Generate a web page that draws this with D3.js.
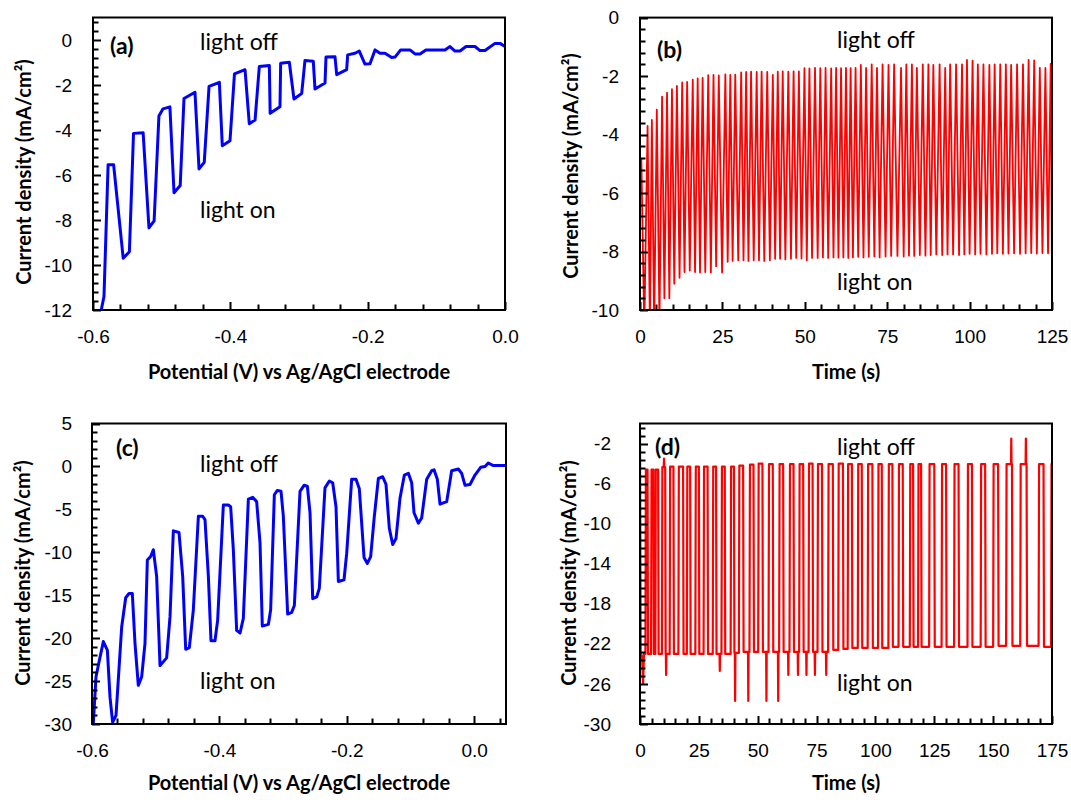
<!DOCTYPE html>
<html>
<head>
<meta charset="utf-8">
<script src="https://cdn.jsdelivr.net/npm/d3@7"></script>
<style>
  html, body { margin: 0; padding: 0; background: #fff; }
  svg { display: block; font-family: Lato, "Open Sans", "DejaVu Sans", sans-serif; }
</style>
</head>
<body>
<svg id="chart" width="1071" height="800"></svg>
<script>
// ---------------- DATA ----------------
// (a) linear sweep, chopped light
const aPotential = [-0.59, -0.584, -0.578, -0.570, -0.556, -0.547, -0.541, -0.527, -0.5185, -0.511, -0.504, -0.498, -0.488, -0.482, -0.473, -0.4675, -0.4515, -0.4456, -0.438, -0.431, -0.416, -0.4117, -0.4005, -0.394, -0.3786, -0.3724, -0.364, -0.3578, -0.3432, -0.342, -0.3277, -0.3267, -0.3141, -0.3073, -0.2961, -0.2913, -0.2792, -0.2767, -0.2621, -0.2607, -0.2476, -0.2451, -0.2306, -0.2291, -0.2185, -0.2122, -0.2039, -0.1966, -0.1893, -0.182, -0.1748, -0.165, -0.1602, -0.1519, -0.1384, -0.1311, -0.1238, -0.1151, -0.0874, -0.0801, -0.0728, -0.0655, -0.0568, -0.0437, -0.0364, -0.0291, -0.0146, -0.0073, 0];
const aCurrent = [-12.3, -11.4, -5.54, -5.54, -9.7, -9.41, -4.15, -4.12, -8.35, -8.04, -3.38, -3.06, -2.97, -6.79, -6.47, -2.6, -2.32, -5.73, -5.44, -2.06, -1.88, -4.7, -4.48, -1.51, -1.32, -3.72, -3.56, -1.18, -1.13, -3.26, -2.97, -1.03, -0.99, -2.62, -2.38, -0.91, -0.94, -2.18, -1.91, -0.76, -0.74, -1.54, -1.32, -0.66, -0.59, -0.49, -1.07, -1.06, -0.44, -0.59, -0.59, -0.78, -0.76, -0.44, -0.44, -0.62, -0.62, -0.44, -0.44, -0.29, -0.49, -0.49, -0.29, -0.29, -0.47, -0.47, -0.15, -0.15, -0.29];

// (b) chronoamperometry: peaks (light off) and troughs (light on)
const bPeakTime = [0.4, 2.3, 3.6, 5.1, 6.7, 8.2, 9.7, 11.2, 12.8, 14.3, 16.0, 17.5, 19.0, 20.7, 22.3, 23.9, 25.9, 27.4, 28.9, 30.7, 32.2, 33.7, 35.4, 36.9, 38.6, 40.3, 41.8, 43.3, 45.0, 46.6, 48.2, 49.9, 51.4, 53.1, 54.7, 56.3, 58.0, 59.5, 61.0, 62.5, 63.9, 65.4, 67.0, 68.6, 70.3, 71.9, 73.6, 75.4, 77.1, 79.2, 80.8, 82.5, 84.0, 85.8, 87.5, 89.0, 90.9, 92.6, 94.1, 95.9, 97.7, 99.2, 100.9, 102.5, 104.2, 106.0, 107.6, 109.3, 111.0, 112.6, 114.4, 116.2, 117.9, 119.6, 121.3, 123.0, 124.6];
const bPeakCurrent = [-4.8, -3.7, -3.5, -3.15, -2.7, -2.57, -2.45, -2.34, -2.22, -2.2, -2.12, -2.08, -2.06, -1.97, -1.96, -1.98, -1.94, -1.96, -1.95, -1.87, -1.86, -1.85, -1.86, -1.85, -1.86, -1.96, -1.85, -1.84, -1.85, -1.84, -1.84, -1.73, -1.74, -1.72, -1.73, -1.72, -1.74, -1.72, -1.73, -1.72, -1.73, -1.72, -1.62, -1.72, -1.60, -1.72, -1.60, -1.62, -1.60, -1.72, -1.60, -1.60, -1.72, -1.60, -1.60, -1.62, -1.60, -1.72, -1.60, -1.60, -1.60, -1.45, -1.47, -1.60, -1.60, -1.62, -1.60, -1.60, -1.60, -1.62, -1.60, -1.60, -1.45, -1.46, -1.72, -1.72, -1.58];
const bTroughTime = [1.3, 3.0, 4.3, 5.9, 7.4, 8.9, 10.4, 12.0, 13.5, 15.1, 16.7, 18.2, 19.8, 21.5, 23.1, 24.9, 26.6, 28.1, 29.8, 31.4, 32.9, 34.5, 36.1, 37.7, 39.4, 41.0, 42.5, 44.1, 45.8, 47.4, 49.0, 50.6, 52.2, 53.9, 55.5, 57.1, 58.7, 60.2, 61.7, 63.2, 64.6, 66.2, 67.8, 69.4, 71.1, 72.7, 74.5, 76.2, 78.1, 80.0, 81.6, 83.2, 84.9, 86.6, 88.2, 89.9, 91.7, 93.3, 95.0, 96.8, 98.4, 100.0, 101.7, 103.3, 105.1, 106.8, 108.4, 110.1, 111.8, 113.5, 115.3, 117.0, 118.7, 120.4, 122.1, 123.8, 125.0];
const bTroughCurrent = [-10.6, -10.6, -10.6, -10.4, -9.6, -9.6, -9.1, -8.9, -8.7, -8.65, -8.7, -8.72, -8.7, -8.72, -8.5, -8.72, -8.35, -8.32, -8.3, -8.3, -8.32, -8.3, -8.3, -8.32, -8.3, -8.25, -8.25, -8.27, -8.25, -8.22, -8.24, -8.3, -8.22, -8.22, -8.2, -8.22, -8.2, -8.21, -8.2, -8.22, -8.2, -8.18, -8.2, -8.18, -8.17, -8.2, -8.17, -8.15, -8.15, -8.17, -8.14, -8.15, -8.12, -8.14, -8.12, -8.1, -8.12, -8.1, -8.1, -8.12, -8.1, -8.08, -8.1, -8.08, -8.1, -8.08, -8.06, -8.08, -8.07, -8.06, -8.08, -8.06, -8.05, -8.07, -8.05, -8.06, -8.1];

// (c) linear sweep, chopped light
const cPotential = [-0.598, -0.5937, -0.5885, -0.5822, -0.5759, -0.5717, -0.5676, -0.5623, -0.5534, -0.5471, -0.5419, -0.5367, -0.5325, -0.5273, -0.522, -0.5168, -0.5131, -0.5079, -0.5037, -0.4985, -0.4932, -0.4828, -0.4775, -0.4723, -0.4634, -0.4576, -0.4529, -0.4472, -0.4409, -0.433, -0.4262, -0.4226, -0.4173, -0.4132, -0.4069, -0.4027, -0.3938, -0.3859, -0.3823, -0.3781, -0.3729, -0.3676, -0.3624, -0.3545, -0.3477, -0.3415, -0.3362, -0.3326, -0.3231, -0.3195, -0.3137, -0.309, -0.3032, -0.2996, -0.2928, -0.2865, -0.2823, -0.2734, -0.2671, -0.2619, -0.2577, -0.2535, -0.2473, -0.2431, -0.2342, -0.2274, -0.2221, -0.2169, -0.2132, -0.2043, -0.2001, -0.1923, -0.1855, -0.1803, -0.1729, -0.1677, -0.1625, -0.1567, -0.1504, -0.1436, -0.1384, -0.1332, -0.1279, -0.1227, -0.1164, -0.1096, -0.1033, -0.0981, -0.0944, -0.0876, -0.0824, -0.0745, -0.0667, -0.063, -0.0578, -0.0536, -0.0431, -0.0353, -0.0248, -0.0196, -0.0143, -0.0065, 0.0013, 0.0102, 0.017, 0.0222, 0.0301, 0.0406, 0.05];
const cCurrent = [-30.0, -24.5, -22.6, -20.4, -21.4, -26.9, -29.8, -29.0, -18.7, -15.3, -14.8, -14.8, -20.6, -25.5, -24.5, -20.6, -10.9, -10.5, -9.7, -12.8, -23.2, -22.3, -17.5, -7.5, -7.7, -12.8, -21.3, -21.1, -16.7, -5.8, -5.8, -6.2, -12.8, -20.3, -20.3, -17.9, -4.5, -4.5, -4.7, -9.7, -19.1, -19.4, -17.7, -3.8, -3.6, -4.1, -8.9, -18.6, -18.4, -16.7, -3.3, -2.8, -2.9, -5.8, -17.2, -17.0, -16.2, -2.9, -2.2, -2.3, -5.4, -15.4, -15.2, -14.2, -2.5, -1.7, -1.9, -4.7, -13.4, -13.2, -10.1, -1.5, -1.5, -2.6, -10.6, -11.3, -10.5, -5.8, -1.4, -1.2, -2.1, -7.2, -9.1, -8.4, -3.7, -1.0, -0.8, -1.9, -5.4, -6.6, -6.0, -1.5, -0.5, -0.4, -1.5, -4.4, -4.1, -0.5, -0.3, -0.8, -2.2, -2.1, -1.0, -0.1, 0.0, 0.4, 0.1, 0.1, 0.1];

// (d) chronoamperometry: square pulses
const dStartTime = [0, 0.3, 0.9, 1.3, 1.7];
const dStartCurrent = [-0.8, -22.9, -23.3, -26.0, -23.0];
const dRiseTime = [2.3, 4.7, 6.5, 9.3, 12.6, 16.3, 19.9, 23.5, 27.0, 30.9, 34.6, 38.5, 42.0, 46.5, 50.2, 54.6, 59.1, 63.5, 67.6, 71.6, 75.4, 79.9, 84.2, 88.2, 92.5, 96.7, 101.1, 105.5, 109.8, 114.6, 118.1, 122.8, 128.1, 133.4, 139.1, 144.7, 150.0, 155.5, 161.5, 169.3, 174.6];
const dFallTime = [3.2, 5.7, 7.7, 10.7, 14.2, 18.3, 21.3, 25.0, 28.7, 32.3, 36.0, 39.9, 43.8, 48.2, 52.0, 56.4, 60.8, 65.2, 69.3, 73.3, 77.3, 81.9, 86.2, 90.0, 94.2, 98.7, 102.7, 107.2, 111.6, 116.0, 119.4, 125.0, 130.0, 135.3, 141.0, 146.6, 152.1, 158.0, 164.2, 171.4];
const dOffCurrent = [-4.6, -4.6, -4.6, -4.35, -4.3, -4.3, -4.3, -4.3, -4.3, -4.3, -4.3, -4.3, -4.2, -4.1, -4.0, -4.05, -4.05, -4.05, -4.05, -4.0, -4.05, -4.05, -4.0, -4.05, -4.05, -4.05, -4.05, -4.05, -4.05, -4.05, -4.05, -4.05, -4.05, -4.05, -4.05, -4.05, -4.05, -4.05, -4.05, -4.05, -4.05];
const dOnCurrent = [-23.0, -23.0, -23.0, -23.0, -23.0, -23.0, -23.0, -23.0, -23.0, -23.0, -23.0, -22.9, -22.8, -22.8, -22.8, -22.8, -22.8, -22.8, -22.8, -22.8, -22.8, -22.6, -22.5, -22.4, -22.4, -22.4, -22.4, -22.3, -22.3, -22.3, -22.3, -22.3, -22.3, -22.3, -22.3, -22.3, -22.2, -22.2, -22.2, -22.3];
const dSpikeTime = [10.2, 11.1, 33.9, 40.4, 46.0, 53.7, 58.7, 63.0, 67.1, 70.7, 74.3, 79.1, 157.7, 163.9];
const dSpikeCurrent = [-3.5, -25.1, -24.7, -27.7, -27.7, -27.7, -27.7, -25.1, -25.1, -25.1, -25.1, -25.1, -1.5, -1.5];
const dEndTime = [175];
const dEndCurrent = [-6.5];

// tick labels
const potentialTicks = [-0.6, -0.4, -0.2, 0.0];
const aYTicks = [-12, -10, -8, -6, -4, -2, 0];
const bXTicks = [0, 25, 50, 75, 100, 125];
const bYTicks = [-10, -8, -6, -4, -2, 0];
const cYTicks = [-30, -25, -20, -15, -10, -5, 0, 5];
const dXTicks = [0, 25, 50, 75, 100, 125, 150, 175];
const dYTicks = [-30, -26, -22, -18, -14, -10, -6, -2];

// ---------------- BUILD SERIES ----------------
const seriesA = aPotential.map((v, i) => [v, aCurrent[i]]);
const seriesC = cPotential.map((v, i) => [v, cCurrent[i]]);
const seriesB = [];
bPeakTime.forEach((t, i) => {
  seriesB.push([t, bPeakCurrent[i]]);
  seriesB.push([bTroughTime[i], bTroughCurrent[i]]);
});
let seriesD = dStartTime.map((t, i) => [t, dStartCurrent[i]]);
let prevOn = dStartCurrent[dStartCurrent.length - 1];
dRiseTime.forEach((t, i) => {
  seriesD.push([t, prevOn], [t + 0.2, dOffCurrent[i]]);
  if (i < dFallTime.length) {
    seriesD.push([dFallTime[i], dOffCurrent[i]], [dFallTime[i] + 0.2, dOnCurrent[i]]);
    prevOn = dOnCurrent[i];
  }
});
dSpikeTime.forEach((t, k) => {
  let base = prevOn;
  for (let i = 0; i < dRiseTime.length; i++) {
    if (t > dRiseTime[i] && (i >= dFallTime.length || t < dFallTime[i])) base = dOffCurrent[i];
    if (i < dFallTime.length && t > dFallTime[i] && (i + 1 >= dRiseTime.length || t < dRiseTime[i + 1])) base = dOnCurrent[i];
  }
  seriesD.push([t - 0.12, base], [t, dSpikeCurrent[k]], [t + 0.12, base]);
});
dEndTime.forEach((t, i) => seriesD.push([t, dEndCurrent[i]]));
seriesD.sort((a, b) => a[0] - b[0]);

// ---------------- DRAW ----------------
const svg = d3.select('#chart');
svg.append('rect').attr('width', 1071).attr('height', 800).attr('fill', '#fff');

const fmt1 = d => d.toFixed(1);
const fmt0 = d => String(d);
function minorRange(a, b, s) { const n = Math.round((b - a) / s); return d3.range(n + 1).map(k => +(a + k * s).toFixed(4)); }

function panel(cfg) {
  const g = svg.append('g');
  const x = d3.scaleLinear().domain(cfg.xd).range([cfg.x0, cfg.x1]);
  const y = d3.scaleLinear().domain(cfg.yd).range([cfg.y1, cfg.y0]);
  const id = 'clip' + cfg.name;
  svg.append('clipPath').attr('id', id).append('rect')
    .attr('x', cfg.x0).attr('y', cfg.y0).attr('width', cfg.x1 - cfg.x0).attr('height', cfg.y1 - cfg.y0);

  // data line
  g.append('path').datum(cfg.data)
    .attr('clip-path', `url(#${id})`)
    .attr('fill', 'none').attr('stroke', cfg.color).attr('stroke-width', cfg.width)
    .attr('stroke-linejoin', 'round')
    .attr('d', d3.line().x(d => x(d[0])).y(d => y(d[1])));

  // axis labels (d3 axes)
  const ax = (gen, tr) => {
    const a = g.append('g').attr('transform', tr).call(gen);
    a.select('.domain').remove();
    a.selectAll('.tick text').attr('fill', '#000').style('font-size', '19px');
    return a;
  };
  ax(d3.axisBottom(x).tickValues(cfg.xTicks).tickSize(0).tickPadding(20).tickFormat(cfg.xFmt), `translate(0,${cfg.y1})`);
  ax(d3.axisLeft(y).tickValues(cfg.yTicks).tickSize(0).tickPadding(cfg.yPad).tickFormat(fmt0), `translate(${cfg.x0},0)`);

  // inward tick marks, positioned by the scales
  const isMajor = (arr, v) => arr.some(t => Math.abs(t - v) < 1e-6);
  const xPath = cfg.xMinor.map(d => {
    const px = Math.round(x(d)) + 0.5;
    return `M${px},${cfg.y1}V${cfg.y1 - (isMajor(cfg.xTicks, d) ? 8 : 5.5)}`;
  }).join('');
  const yPath = cfg.yMinor.map(d => {
    const py = Math.round(y(d)) + 0.5;
    return `M${cfg.x0},${py}H${cfg.x0 + (isMajor(cfg.yTicks, d) ? 8 : 5.5)}`;
  }).join('');
  g.append('path').attr('d', xPath + yPath).attr('fill', 'none')
    .attr('stroke', '#000').attr('stroke-width', 2);

  // frame
  g.append('rect').attr('x', cfg.x0).attr('y', cfg.y0)
    .attr('width', cfg.x1 - cfg.x0).attr('height', cfg.y1 - cfg.y0)
    .attr('fill', 'none').attr('stroke', '#000').attr('stroke-width', 2);

  // titles
  g.append('text').attr('x', (cfg.x0 + cfg.x1) / 2).attr('y', cfg.xTitleY)
    .attr('text-anchor', 'middle').style('font-size', '20px').style('font-weight', 'bold')
    .text(cfg.xTitle);
  g.append('text').attr('transform', `translate(${cfg.yTitleX},${cfg.yTitleY}) rotate(-90)`)
    .attr('text-anchor', 'middle').attr('dominant-baseline', 'central')
    .style('font-size', '20px').style('font-weight', 'bold')
    .text(cfg.yTitle);

  // annotations
  g.append('text').attr('x', cfg.tag[0]).attr('y', cfg.tag[1]).style('font-size', '23px').style('font-weight', 'bold').text(cfg.tagText);
  g.append('text').attr('x', cfg.off[0]).attr('y', cfg.off[1]).style('font-size', '23px').text('light off');
  g.append('text').attr('x', cfg.on[0]).attr('y', cfg.on[1]).style('font-size', '23px').text('light on');
}

panel({
  name: 'a', x0: 93, x1: 505, y0: 17.5, y1: 310,
  xd: [-0.6, 0], yd: [-12, 1],
  xTicks: potentialTicks, xMinor: minorRange(-0.6, 0, 0.04), xFmt: fmt1,
  yTicks: aYTicks, yMinor: minorRange(-12, 0.8, 0.4), yPad: 21,
  data: seriesA, color: '#0000ff', width: 3,
  xTitle: 'Potential (V) vs Ag/AgCl electrode', xTitleY: 379,
  yTitle: 'Current density (mA/cm²)', yTitleX: 23, yTitleY: 172,
  tag: [110, 54], tagText: '(a)', off: [200, 50], on: [200, 218]
});
panel({
  name: 'b', x0: 640, x1: 1052, y0: 17.6, y1: 310,
  xd: [0, 125], yd: [-10, 0],
  xTicks: bXTicks, xMinor: minorRange(0, 125, 5), xFmt: fmt0,
  yTicks: bYTicks, yMinor: minorRange(-10, 0, 0.4), yPad: 21,
  data: seriesB, color: '#ff0000', width: 1.8,
  xTitle: 'Time (s)', xTitleY: 379,
  yTitle: 'Current density (mA/cm²)', yTitleX: 570, yTitleY: 166,
  tag: [657, 58], tagText: '(b)', off: [837, 48], on: [837, 290]
});
panel({
  name: 'c', x0: 92, x1: 506, y0: 423.5, y1: 724,
  xd: [-0.6, 0.05], yd: [-30, 5],
  xTicks: potentialTicks, xMinor: minorRange(-0.6, 0.04, 0.04), xFmt: fmt1,
  yTicks: cYTicks, yMinor: minorRange(-30, 5, 1), yPad: 20,
  data: seriesC, color: '#0000ff', width: 3,
  xTitle: 'Potential (V) vs Ag/AgCl electrode', xTitleY: 790,
  yTitle: 'Current density (mA/cm²)', yTitleX: 22, yTitleY: 573,
  tag: [116, 456], tagText: '(c)', off: [200, 472], on: [200, 689]
});
panel({
  name: 'd', x0: 640, x1: 1052, y0: 423.5, y1: 724,
  xd: [0, 175], yd: [-30, 0],
  xTicks: dXTicks, xMinor: minorRange(0, 175, 5), xFmt: fmt0,
  yTicks: dYTicks, yMinor: minorRange(-30, -0.4, 0.8), yPad: 29,
  data: seriesD, color: '#ff0000', width: 2.2,
  xTitle: 'Time (s)', xTitleY: 790,
  yTitle: 'Current density  (mA/cm²)', yTitleX: 568, yTitleY: 573,
  tag: [655, 455], tagText: '(d)', off: [837, 455], on: [837, 691]
});
</script>
</body>
</html>
